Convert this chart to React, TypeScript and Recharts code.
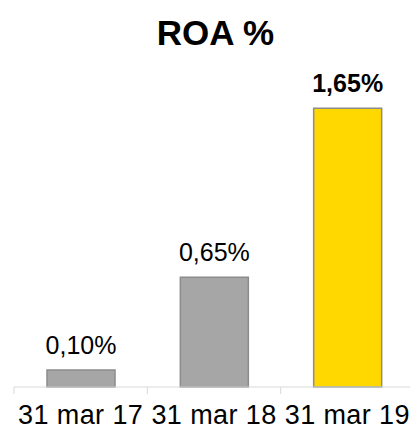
import React from 'react';
import { BarChart, Bar, XAxis, YAxis, Cell, LabelList } from 'recharts';

const categories = ['31 mar 17', '31 mar 18', '31 mar 19'];
const roaValues = [0.1, 0.65, 1.65];
const highlightIndex = 2;

const data = categories.map((date, i) => ({ date, roa: roaValues[i] }));

const FONT = '"Liberation Sans", Arial, sans-serif';
const GREY = '#a6a6a6';
const YELLOW = '#ffd800';
const BORDER = '#8c8c8c';
const AXIS = '#d9d9d9';

const formatPct = (v: number) => v.toFixed(2).replace('.', ',') + '%';

// tick marks sit on the category boundaries, labels in the middle
const DateTick = (props: any) => {
  const { x, y, payload, index } = props;
  const half = payload.offset || 0;
  const axisY = y - 7;
  return (
    <g>
      <line x1={x - half} x2={x - half} y1={axisY} y2={axisY + 7} stroke={AXIS} />
      {index === categories.length - 1 && (
        <line x1={x + half} x2={x + half} y1={axisY} y2={axisY + 7} stroke={AXIS} />
      )}
      <text
        x={x}
        y={axisY + 37}
        textAnchor="middle"
        fontFamily={FONT}
        fontSize={27}
        letterSpacing={0.4}
        fill="#000"
      >
        {payload.value}
      </text>
    </g>
  );
};

const ValueLabel = (props: any) => {
  const { x, y, width, value, index } = props;
  return (
    <text
      x={x + width / 2}
      y={y - 16}
      textAnchor="middle"
      fontFamily={FONT}
      fontSize={25}
      fontWeight={index === highlightIndex ? 'bold' : 'normal'}
      fill="#000"
    >
      {formatPct(value)}
    </text>
  );
};

export default function App() {
  return (
    <div style={{ position: 'absolute', left: 0, top: 0, width: 410, height: 430, background: '#fff' }}>
      <BarChart
        width={410}
        height={430}
        data={data}
        margin={{ top: 49, right: -4, left: 14, bottom: 0 }}
        barSize={68}
      >
        <XAxis
          dataKey="date"
          height={43}
          axisLine={{ stroke: AXIS }}
          tickLine={false}
          tickSize={7}
          tickMargin={0}
          interval={0}
          tick={<DateTick />}
        />
        <YAxis hide domain={[0, 2]} />
        <Bar dataKey="roa" stroke={BORDER} strokeWidth={1.5} isAnimationActive={false}>
          {data.map((_, i) => (
            <Cell key={i} fill={i === highlightIndex ? YELLOW : GREY} />
          ))}
          <LabelList dataKey="roa" content={<ValueLabel />} />
        </Bar>
      </BarChart>
      <svg
        width={410}
        height={60}
        style={{ position: 'absolute', left: 0, top: 0, pointerEvents: 'none' }}
      >
        <text x={215.5} y={45} textAnchor="middle" fontFamily={FONT} fontSize={35} fontWeight="bold" fill="#000">
          ROA %
        </text>
      </svg>
    </div>
  );
}
